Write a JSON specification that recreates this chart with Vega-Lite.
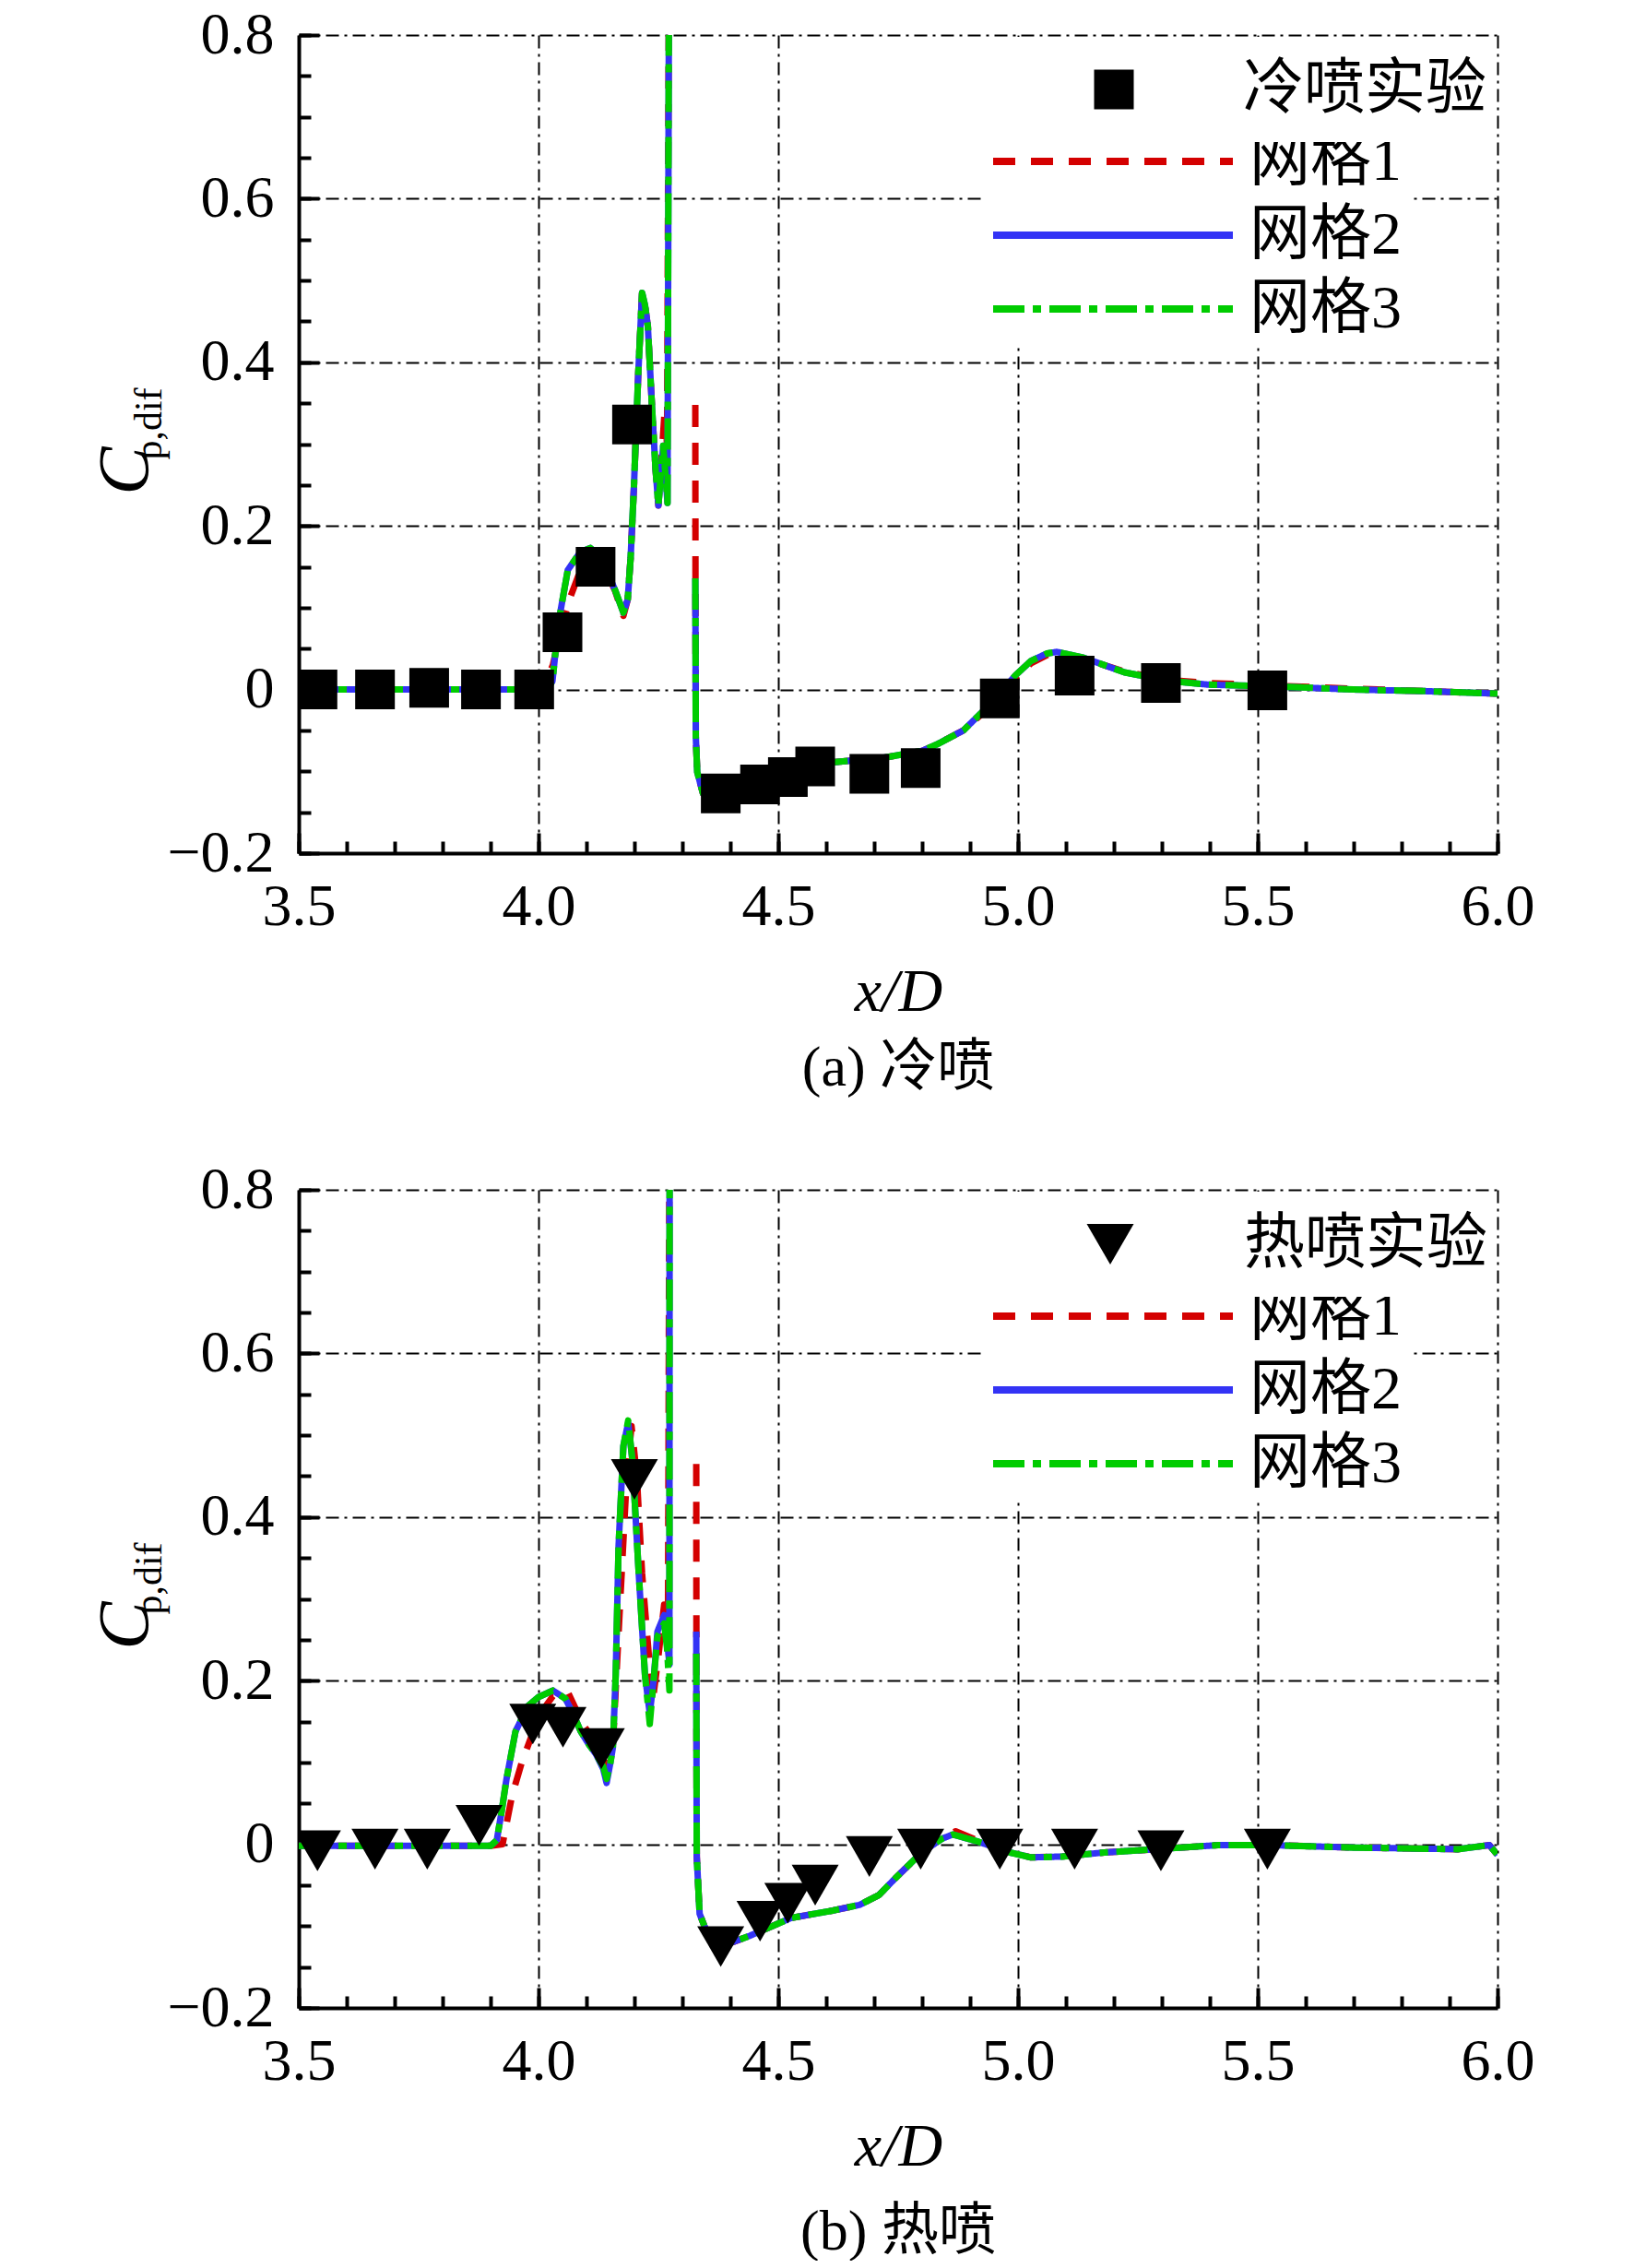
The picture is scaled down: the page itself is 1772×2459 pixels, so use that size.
{
  "$schema": "https://vega.github.io/schema/vega-lite/v6.json",
  "padding": {"left": 97, "top": 6, "right": 0, "bottom": 0},
  "spacing": 69,
  "config": {
    "font": "Liberation Serif",
    "view": {"stroke": null},
    "axis": {"labelColor": "black", "titleColor": "black", "tickColor": "black", "domainColor": "black", "titleFontWeight": "normal", "labelFont": "Liberation Serif", "titleFont": "Liberation Serif"},
    "legend": {"labelFont": "Liberation Serif, Noto Sans CJK SC", "labelFontSize": 66, "labelColor": "black", "labelLimit": 0, "fillColor": "white", "padding": 9, "orient": "none"},
    "title": {"font": "Liberation Serif, Noto Sans CJK SC", "fontSize": 62, "fontWeight": "normal", "color": "black", "anchor": "middle", "offset": 20}
  },
  "resolve": {"scale": {"color": "independent", "strokeDash": "independent", "shape": "independent"}},
  "vconcat": [
    {
      "width": 1300, "height": 887,
      "title": {"text": "(a) 冷喷", "orient": "bottom"},
      "resolve": {"axis": {"x": "independent", "y": "independent"}},
      "layer": [
        {
          "data": {"values": [
            {"x":3.5,"y":0.0,"mesh":"网格1"},{"x":3.7,"y":0.0,"mesh":"网格1"},{"x":3.9,"y":0.0,"mesh":"网格1"},{"x":4.0,"y":0.0,"mesh":"网格1"},{"x":4.015,"y":0.01,"mesh":"网格1"},{"x":4.03,"y":0.03,"mesh":"网格1"},{"x":4.045,"y":0.07,"mesh":"网格1"},{"x":4.067,"y":0.114,"mesh":"网格1"},{"x":4.09,"y":0.15,"mesh":"网格1"},{"x":4.106,"y":0.162,"mesh":"网格1"},{"x":4.125,"y":0.158,"mesh":"网格1"},{"x":4.14,"y":0.146,"mesh":"网格1"},{"x":4.16,"y":0.12,"mesh":"网格1"},{"x":4.177,"y":0.09,"mesh":"网格1"},{"x":4.186,"y":0.11,"mesh":"网格1"},{"x":4.192,"y":0.16,"mesh":"网格1"},{"x":4.199,"y":0.248,"mesh":"网格1"},{"x":4.208,"y":0.386,"mesh":"网格1"},{"x":4.216,"y":0.485,"mesh":"网格1"},{"x":4.222,"y":0.47,"mesh":"网格1"},{"x":4.228,"y":0.444,"mesh":"网格1"},{"x":4.237,"y":0.342,"mesh":"网格1"},{"x":4.244,"y":0.27,"mesh":"网格1"},{"x":4.25,"y":0.225,"mesh":"网格1"},{"x":4.263,"y":0.34,"mesh":"网格1"},{"x":4.268,"y":0.3,"mesh":"网格1"},{"x":4.2725,"y":0.95,"mesh":"网格1"},{"x":4.3,"y":null,"mesh":"网格1"},{"x":4.327,"y":0.348,"mesh":"网格1"},{"x":4.3275,"y":0.05,"mesh":"网格1"},{"x":4.328,"y":-0.057,"mesh":"网格1"},{"x":4.331,"y":-0.101,"mesh":"网格1"},{"x":4.343,"y":-0.127,"mesh":"网格1"},{"x":4.36,"y":-0.133,"mesh":"网格1"},{"x":4.369,"y":-0.134,"mesh":"网格1"},{"x":4.397,"y":-0.129,"mesh":"网格1"},{"x":4.413,"y":-0.123,"mesh":"网格1"},{"x":4.462,"y":-0.112,"mesh":"网格1"},{"x":4.527,"y":-0.096,"mesh":"网格1"},{"x":4.614,"y":-0.089,"mesh":"网格1"},{"x":4.723,"y":-0.083,"mesh":"网格1"},{"x":4.8,"y":-0.075,"mesh":"网格1"},{"x":4.831,"y":-0.067,"mesh":"网格1"},{"x":4.886,"y":-0.05,"mesh":"网格1"},{"x":4.94,"y":-0.022,"mesh":"网格1"},{"x":4.994,"y":0.014,"mesh":"网格1"},{"x":5.027,"y":0.032,"mesh":"网格1"},{"x":5.06,"y":0.042,"mesh":"网格1"},{"x":5.081,"y":0.044,"mesh":"网格1"},{"x":5.136,"y":0.038,"mesh":"网格1"},{"x":5.222,"y":0.022,"mesh":"网格1"},{"x":5.309,"y":0.012,"mesh":"网格1"},{"x":5.396,"y":0.008,"mesh":"网格1"},{"x":5.526,"y":0.005,"mesh":"网格1"},{"x":5.7,"y":0.001,"mesh":"网格1"},{"x":5.85,"y":-0.002,"mesh":"网格1"},{"x":6.0,"y":-0.005,"mesh":"网格1"},
            {"x":3.5,"y":0.0,"mesh":"网格2"},{"x":3.7,"y":0.0,"mesh":"网格2"},{"x":3.9,"y":0.0,"mesh":"网格2"},{"x":4.0,"y":0.0,"mesh":"网格2"},{"x":4.02,"y":0.002,"mesh":"网格2"},{"x":4.029,"y":0.01,"mesh":"网格2"},{"x":4.042,"y":0.083,"mesh":"网格2"},{"x":4.061,"y":0.146,"mesh":"网格2"},{"x":4.087,"y":0.168,"mesh":"网格2"},{"x":4.108,"y":0.173,"mesh":"网格2"},{"x":4.125,"y":0.165,"mesh":"网格2"},{"x":4.138,"y":0.152,"mesh":"网格2"},{"x":4.16,"y":0.121,"mesh":"网格2"},{"x":4.177,"y":0.094,"mesh":"网格2"},{"x":4.186,"y":0.11,"mesh":"网格2"},{"x":4.192,"y":0.16,"mesh":"网格2"},{"x":4.199,"y":0.248,"mesh":"网格2"},{"x":4.208,"y":0.386,"mesh":"网格2"},{"x":4.216,"y":0.485,"mesh":"网格2"},{"x":4.222,"y":0.47,"mesh":"网格2"},{"x":4.228,"y":0.444,"mesh":"网格2"},{"x":4.237,"y":0.342,"mesh":"网格2"},{"x":4.244,"y":0.27,"mesh":"网格2"},{"x":4.25,"y":0.225,"mesh":"网格2"},{"x":4.256,"y":0.27,"mesh":"网格2"},{"x":4.26,"y":0.298,"mesh":"网格2"},{"x":4.265,"y":0.26,"mesh":"网格2"},{"x":4.269,"y":0.228,"mesh":"网格2"},{"x":4.2725,"y":0.95,"mesh":"网格2"},{"x":4.3,"y":null,"mesh":"网格2"},{"x":4.327,"y":0.136,"mesh":"网格2"},{"x":4.3275,"y":0.05,"mesh":"网格2"},{"x":4.328,"y":-0.057,"mesh":"网格2"},{"x":4.331,"y":-0.101,"mesh":"网格2"},{"x":4.343,"y":-0.127,"mesh":"网格2"},{"x":4.36,"y":-0.133,"mesh":"网格2"},{"x":4.369,"y":-0.134,"mesh":"网格2"},{"x":4.397,"y":-0.129,"mesh":"网格2"},{"x":4.413,"y":-0.123,"mesh":"网格2"},{"x":4.462,"y":-0.112,"mesh":"网格2"},{"x":4.527,"y":-0.096,"mesh":"网格2"},{"x":4.614,"y":-0.089,"mesh":"网格2"},{"x":4.723,"y":-0.083,"mesh":"网格2"},{"x":4.8,"y":-0.075,"mesh":"网格2"},{"x":4.831,"y":-0.067,"mesh":"网格2"},{"x":4.886,"y":-0.05,"mesh":"网格2"},{"x":4.94,"y":-0.019,"mesh":"网格2"},{"x":4.994,"y":0.017,"mesh":"网格2"},{"x":5.027,"y":0.035,"mesh":"网格2"},{"x":5.06,"y":0.044,"mesh":"网格2"},{"x":5.081,"y":0.046,"mesh":"网格2"},{"x":5.136,"y":0.039,"mesh":"网格2"},{"x":5.222,"y":0.021,"mesh":"网格2"},{"x":5.309,"y":0.011,"mesh":"网格2"},{"x":5.396,"y":0.006,"mesh":"网格2"},{"x":5.526,"y":0.004,"mesh":"网格2"},{"x":5.7,"y":0.0,"mesh":"网格2"},{"x":5.85,"y":-0.002,"mesh":"网格2"},{"x":6.0,"y":-0.005,"mesh":"网格2"},
            {"x":3.5,"y":0.0,"mesh":"网格3"},{"x":3.7,"y":0.0,"mesh":"网格3"},{"x":3.9,"y":0.0,"mesh":"网格3"},{"x":4.0,"y":0.0,"mesh":"网格3"},{"x":4.02,"y":0.002,"mesh":"网格3"},{"x":4.029,"y":0.01,"mesh":"网格3"},{"x":4.042,"y":0.083,"mesh":"网格3"},{"x":4.061,"y":0.146,"mesh":"网格3"},{"x":4.087,"y":0.168,"mesh":"网格3"},{"x":4.108,"y":0.173,"mesh":"网格3"},{"x":4.125,"y":0.165,"mesh":"网格3"},{"x":4.138,"y":0.152,"mesh":"网格3"},{"x":4.16,"y":0.121,"mesh":"网格3"},{"x":4.177,"y":0.094,"mesh":"网格3"},{"x":4.186,"y":0.11,"mesh":"网格3"},{"x":4.192,"y":0.16,"mesh":"网格3"},{"x":4.199,"y":0.248,"mesh":"网格3"},{"x":4.208,"y":0.386,"mesh":"网格3"},{"x":4.216,"y":0.485,"mesh":"网格3"},{"x":4.222,"y":0.47,"mesh":"网格3"},{"x":4.228,"y":0.444,"mesh":"网格3"},{"x":4.237,"y":0.342,"mesh":"网格3"},{"x":4.244,"y":0.27,"mesh":"网格3"},{"x":4.25,"y":0.225,"mesh":"网格3"},{"x":4.256,"y":0.27,"mesh":"网格3"},{"x":4.26,"y":0.298,"mesh":"网格3"},{"x":4.265,"y":0.26,"mesh":"网格3"},{"x":4.269,"y":0.228,"mesh":"网格3"},{"x":4.2725,"y":0.95,"mesh":"网格3"},{"x":4.3,"y":null,"mesh":"网格3"},{"x":4.327,"y":0.136,"mesh":"网格3"},{"x":4.3275,"y":0.05,"mesh":"网格3"},{"x":4.328,"y":-0.057,"mesh":"网格3"},{"x":4.331,"y":-0.101,"mesh":"网格3"},{"x":4.343,"y":-0.127,"mesh":"网格3"},{"x":4.36,"y":-0.133,"mesh":"网格3"},{"x":4.369,"y":-0.134,"mesh":"网格3"},{"x":4.397,"y":-0.129,"mesh":"网格3"},{"x":4.413,"y":-0.123,"mesh":"网格3"},{"x":4.462,"y":-0.112,"mesh":"网格3"},{"x":4.527,"y":-0.096,"mesh":"网格3"},{"x":4.614,"y":-0.089,"mesh":"网格3"},{"x":4.723,"y":-0.083,"mesh":"网格3"},{"x":4.8,"y":-0.075,"mesh":"网格3"},{"x":4.831,"y":-0.067,"mesh":"网格3"},{"x":4.886,"y":-0.05,"mesh":"网格3"},{"x":4.94,"y":-0.019,"mesh":"网格3"},{"x":4.994,"y":0.017,"mesh":"网格3"},{"x":5.027,"y":0.035,"mesh":"网格3"},{"x":5.06,"y":0.044,"mesh":"网格3"},{"x":5.081,"y":0.046,"mesh":"网格3"},{"x":5.136,"y":0.039,"mesh":"网格3"},{"x":5.222,"y":0.021,"mesh":"网格3"},{"x":5.309,"y":0.011,"mesh":"网格3"},{"x":5.396,"y":0.006,"mesh":"网格3"},{"x":5.526,"y":0.004,"mesh":"网格3"},{"x":5.7,"y":0.0,"mesh":"网格3"},{"x":5.85,"y":-0.002,"mesh":"网格3"},{"x":6.0,"y":-0.005,"mesh":"网格3"}
          ]},
          "mark": {"type": "line", "strokeWidth": 7, "clip": true, "strokeJoin": "round"},
          "encoding": {
            "x": {"field": "x", "type": "quantitative", "scale": {"domain": [3.5, 6.0], "nice": false, "zero": false},
              "axis": {"orient": "bottom", "values": [3.5, 4.0, 4.5, 5.0, 5.5, 6.0], "format": ".1f", "labelFontSize": 64, "labelPadding": 48, "labelFlush": false, "labelOverlap": false, "tickSize": -22, "tickWidth": 4, "domainWidth": 4, "grid": true, "gridColor": "black", "gridWidth": 2, "gridDash": [14, 6, 3, 6], "gridOpacity": 1, "title": "x/D", "titleFontSize": 66, "titleFontStyle": "italic", "titlePadding": 28}},
            "y": {"field": "y", "type": "quantitative", "scale": {"domain": [-0.2, 0.8], "nice": false, "zero": false},
              "axis": {"orient": "left", "values": [-0.2, 0, 0.2, 0.4, 0.6, 0.8], "labelExpr": "datum.value == 0 ? '0' : format(datum.value, '.1f')", "labelFontSize": 64, "labelPadding": 49, "labelFlush": false, "labelOverlap": false, "tickSize": -22, "tickWidth": 4, "domainWidth": 4, "grid": true, "gridColor": "black", "gridWidth": 2, "gridDash": [14, 6, 3, 6], "gridOpacity": 1, "title": "C", "titleFontSize": 78, "titleFontStyle": "italic", "titleX": -188, "titleY": 472, "titleAngle": -90, "titleBaseline": "middle", "titleAlign": "center"}},
            "color": {"field": "mesh", "type": "nominal",
              "scale": {"domain": ["网格1", "网格2", "网格3"], "range": ["#d40000", "#3333f5", "#00cc00"]},
              "legend": {"orient": "none", "legendX": 740, "legendY": 98, "title": "          ", "titleOrient": "right", "titleFontSize": 40, "titlePadding": 2, "symbolType": "stroke", "symbolSize": 67600, "symbolStrokeWidth": 8, "clipHeight": 60, "rowPadding": 14, "labelOffset": 14}},
            "strokeDash": {"field": "mesh", "type": "nominal",
              "scale": {"domain": ["网格1", "网格2", "网格3"], "range": [[24, 17], [1, 0], [34, 9, 9, 9]]},
              "legend": {"orient": "none", "legendX": 740, "legendY": 98, "title": "          ", "titleOrient": "right", "titleFontSize": 40, "titlePadding": 2, "symbolType": "stroke", "symbolSize": 67600, "symbolStrokeWidth": 8, "clipHeight": 60, "rowPadding": 14, "labelOffset": 14}}
          }
        },
        {
          "data": {"values": [
            {"x":3.539,"y":0.0,"mesh":"冷喷实验"},{"x":3.659,"y":0.0,"mesh":"冷喷实验"},{"x":3.772,"y":0.002,"mesh":"冷喷实验"},{"x":3.88,"y":0.0,"mesh":"冷喷实验"},{"x":3.991,"y":0.0,"mesh":"冷喷实验"},{"x":4.05,"y":0.07,"mesh":"冷喷实验"},{"x":4.119,"y":0.15,"mesh":"冷喷实验"},{"x":4.195,"y":0.324,"mesh":"冷喷实验"},{"x":4.38,"y":-0.127,"mesh":"冷喷实验"},{"x":4.462,"y":-0.116,"mesh":"冷喷实验"},{"x":4.52,"y":-0.107,"mesh":"冷喷实验"},{"x":4.577,"y":-0.094,"mesh":"冷喷实验"},{"x":4.69,"y":-0.103,"mesh":"冷喷实验"},{"x":4.797,"y":-0.096,"mesh":"冷喷实验"},{"x":4.962,"y":-0.011,"mesh":"冷喷实验"},{"x":5.118,"y":0.017,"mesh":"冷喷实验"},{"x":5.298,"y":0.008,"mesh":"冷喷实验"},{"x":5.52,"y":-0.001,"mesh":"冷喷实验"}
          ]},
          "mark": {"type": "point", "size": 1850, "filled": true, "opacity": 1, "color": "black", "clip": true},
          "encoding": {
            "x": {"field": "x", "type": "quantitative",
              "axis": {"orient": "bottom", "values": [3.5,3.6,3.7,3.8,3.9,4.0,4.1,4.2,4.3,4.4,4.5,4.6,4.7,4.8,4.9,5.0,5.1,5.2,5.3,5.4,5.5,5.6,5.7,5.8,5.9,6.0], "labels": false, "domain": false, "grid": false, "tickSize": -13, "tickWidth": 4, "title": null}},
            "y": {"field": "y", "type": "quantitative",
              "axis": {"orient": "left", "values": [-0.2,-0.15,-0.1,-0.05,0,0.05,0.1,0.15,0.2,0.25,0.3,0.35,0.4,0.45,0.5,0.55,0.6,0.65,0.7,0.75,0.8], "labels": false, "domain": false, "grid": false, "tickSize": -13, "tickWidth": 4, "title": "p,dif", "titleFontSize": 42, "titleFontStyle": "normal", "titleX": -163, "titleY": 421, "titleAngle": -90, "titleBaseline": "middle", "titleAlign": "center"}},
            "shape": {"field": "mesh", "type": "nominal",
              "scale": {"domain": ["冷喷实验"], "range": ["square"]},
              "legend": {"orient": "none", "legendX": 737, "legendY": 2, "title": null, "symbolSize": 1850, "symbolFillColor": "black", "symbolStrokeWidth": 0, "symbolOpacity": 1, "symbolOffset": 105, "clipHeight": 96, "labelOffset": 107}}
          }
        }
      ]
    },
    {
      "width": 1300, "height": 887,
      "title": {"text": "(b) 热喷", "orient": "bottom", "offset": 30},
      "resolve": {"axis": {"x": "independent", "y": "independent"}},
      "layer": [
        {
          "data": {"values": [
            {"x":3.5,"y":-0.002,"mesh":"网格1"},{"x":3.7,"y":-0.002,"mesh":"网格1"},{"x":3.9,"y":-0.002,"mesh":"网格1"},{"x":3.925,"y":0.0,"mesh":"网格1"},{"x":3.945,"y":0.06,"mesh":"网格1"},{"x":3.965,"y":0.1,"mesh":"网格1"},{"x":3.984,"y":0.13,"mesh":"网格1"},{"x":4.01,"y":0.165,"mesh":"网格1"},{"x":4.03,"y":0.181,"mesh":"网格1"},{"x":4.062,"y":0.185,"mesh":"网格1"},{"x":4.094,"y":0.145,"mesh":"网格1"},{"x":4.126,"y":0.121,"mesh":"网格1"},{"x":4.142,"y":0.09,"mesh":"网格1"},{"x":4.155,"y":0.12,"mesh":"网格1"},{"x":4.17,"y":0.293,"mesh":"网格1"},{"x":4.185,"y":0.46,"mesh":"网格1"},{"x":4.194,"y":0.511,"mesh":"网格1"},{"x":4.205,"y":0.45,"mesh":"网格1"},{"x":4.216,"y":0.331,"mesh":"网格1"},{"x":4.238,"y":0.174,"mesh":"网格1"},{"x":4.25,"y":0.23,"mesh":"网格1"},{"x":4.262,"y":0.293,"mesh":"网格1"},{"x":4.27,"y":0.28,"mesh":"网格1"},{"x":4.2735,"y":0.95,"mesh":"网格1"},{"x":4.3,"y":null,"mesh":"网格1"},{"x":4.329,"y":0.465,"mesh":"网格1"},{"x":4.3295,"y":0.1,"mesh":"网格1"},{"x":4.33,"y":-0.015,"mesh":"网格1"},{"x":4.336,"y":-0.085,"mesh":"网格1"},{"x":4.354,"y":-0.112,"mesh":"网格1"},{"x":4.38,"y":-0.125,"mesh":"网格1"},{"x":4.44,"y":-0.112,"mesh":"网格1"},{"x":4.527,"y":-0.09,"mesh":"网格1"},{"x":4.614,"y":-0.081,"mesh":"网格1"},{"x":4.67,"y":-0.074,"mesh":"网格1"},{"x":4.71,"y":-0.062,"mesh":"网格1"},{"x":4.745,"y":-0.041,"mesh":"网格1"},{"x":4.799,"y":-0.01,"mesh":"网格1"},{"x":4.842,"y":0.008,"mesh":"网格1"},{"x":4.87,"y":0.016,"mesh":"网格1"},{"x":4.918,"y":0.004,"mesh":"网格1"},{"x":4.983,"y":-0.01,"mesh":"网格1"},{"x":5.027,"y":-0.016,"mesh":"网格1"},{"x":5.092,"y":-0.015,"mesh":"网格1"},{"x":5.18,"y":-0.01,"mesh":"网格1"},{"x":5.288,"y":-0.006,"mesh":"网格1"},{"x":5.418,"y":-0.001,"mesh":"网格1"},{"x":5.526,"y":-0.001,"mesh":"网格1"},{"x":5.7,"y":-0.004,"mesh":"网格1"},{"x":5.917,"y":-0.006,"mesh":"网格1"},{"x":5.983,"y":-0.001,"mesh":"网格1"},{"x":6.0,"y":-0.013,"mesh":"网格1"},
            {"x":3.5,"y":-0.002,"mesh":"网格2"},{"x":3.7,"y":-0.002,"mesh":"网格2"},{"x":3.9,"y":-0.002,"mesh":"网格2"},{"x":3.913,"y":0.005,"mesh":"网格2"},{"x":3.923,"y":0.04,"mesh":"网格2"},{"x":3.933,"y":0.079,"mesh":"网格2"},{"x":3.952,"y":0.138,"mesh":"网格2"},{"x":3.978,"y":0.169,"mesh":"网格2"},{"x":4.0,"y":0.18,"mesh":"网格2"},{"x":4.03,"y":0.188,"mesh":"网格2"},{"x":4.056,"y":0.178,"mesh":"网格2"},{"x":4.072,"y":0.16,"mesh":"网格2"},{"x":4.088,"y":0.138,"mesh":"网格2"},{"x":4.105,"y":0.122,"mesh":"网格2"},{"x":4.12,"y":0.11,"mesh":"网格2"},{"x":4.135,"y":0.092,"mesh":"网格2"},{"x":4.142,"y":0.075,"mesh":"网格2"},{"x":4.15,"y":0.1,"mesh":"网格2"},{"x":4.155,"y":0.118,"mesh":"网格2"},{"x":4.161,"y":0.207,"mesh":"网格2"},{"x":4.167,"y":0.365,"mesh":"网格2"},{"x":4.177,"y":0.487,"mesh":"网格2"},{"x":4.187,"y":0.515,"mesh":"网格2"},{"x":4.196,"y":0.468,"mesh":"网格2"},{"x":4.209,"y":0.331,"mesh":"网格2"},{"x":4.222,"y":0.207,"mesh":"网格2"},{"x":4.232,"y":0.16,"mesh":"网格2"},{"x":4.24,"y":0.2,"mesh":"网格2"},{"x":4.248,"y":0.26,"mesh":"网格2"},{"x":4.262,"y":0.28,"mesh":"网格2"},{"x":4.268,"y":0.25,"mesh":"网格2"},{"x":4.273,"y":0.22,"mesh":"网格2"},{"x":4.2735,"y":0.95,"mesh":"网格2"},{"x":4.3,"y":null,"mesh":"网格2"},{"x":4.329,"y":0.26,"mesh":"网格2"},{"x":4.3295,"y":0.1,"mesh":"网格2"},{"x":4.33,"y":-0.015,"mesh":"网格2"},{"x":4.336,"y":-0.085,"mesh":"网格2"},{"x":4.354,"y":-0.112,"mesh":"网格2"},{"x":4.38,"y":-0.125,"mesh":"网格2"},{"x":4.44,"y":-0.112,"mesh":"网格2"},{"x":4.527,"y":-0.09,"mesh":"网格2"},{"x":4.614,"y":-0.081,"mesh":"网格2"},{"x":4.67,"y":-0.074,"mesh":"网格2"},{"x":4.71,"y":-0.062,"mesh":"网格2"},{"x":4.745,"y":-0.041,"mesh":"网格2"},{"x":4.799,"y":-0.01,"mesh":"网格2"},{"x":4.842,"y":0.007,"mesh":"网格2"},{"x":4.864,"y":0.012,"mesh":"网格2"},{"x":4.918,"y":0.003,"mesh":"网格2"},{"x":4.983,"y":-0.01,"mesh":"网格2"},{"x":5.027,"y":-0.016,"mesh":"网格2"},{"x":5.092,"y":-0.015,"mesh":"网格2"},{"x":5.18,"y":-0.01,"mesh":"网格2"},{"x":5.288,"y":-0.006,"mesh":"网格2"},{"x":5.418,"y":-0.001,"mesh":"网格2"},{"x":5.526,"y":-0.001,"mesh":"网格2"},{"x":5.7,"y":-0.004,"mesh":"网格2"},{"x":5.917,"y":-0.006,"mesh":"网格2"},{"x":5.983,"y":-0.001,"mesh":"网格2"},{"x":6.0,"y":-0.013,"mesh":"网格2"},
            {"x":3.5,"y":-0.002,"mesh":"网格3"},{"x":3.7,"y":-0.002,"mesh":"网格3"},{"x":3.9,"y":-0.002,"mesh":"网格3"},{"x":3.913,"y":0.005,"mesh":"网格3"},{"x":3.923,"y":0.04,"mesh":"网格3"},{"x":3.933,"y":0.079,"mesh":"网格3"},{"x":3.952,"y":0.138,"mesh":"网格3"},{"x":3.978,"y":0.169,"mesh":"网格3"},{"x":4.0,"y":0.18,"mesh":"网格3"},{"x":4.03,"y":0.188,"mesh":"网格3"},{"x":4.056,"y":0.178,"mesh":"网格3"},{"x":4.072,"y":0.16,"mesh":"网格3"},{"x":4.088,"y":0.138,"mesh":"网格3"},{"x":4.105,"y":0.122,"mesh":"网格3"},{"x":4.12,"y":0.11,"mesh":"网格3"},{"x":4.135,"y":0.095,"mesh":"网格3"},{"x":4.142,"y":0.08,"mesh":"网格3"},{"x":4.15,"y":0.1,"mesh":"网格3"},{"x":4.155,"y":0.118,"mesh":"网格3"},{"x":4.161,"y":0.207,"mesh":"网格3"},{"x":4.167,"y":0.365,"mesh":"网格3"},{"x":4.177,"y":0.487,"mesh":"网格3"},{"x":4.187,"y":0.518,"mesh":"网格3"},{"x":4.196,"y":0.468,"mesh":"网格3"},{"x":4.209,"y":0.331,"mesh":"网格3"},{"x":4.222,"y":0.207,"mesh":"网格3"},{"x":4.232,"y":0.147,"mesh":"网格3"},{"x":4.24,"y":0.2,"mesh":"网格3"},{"x":4.248,"y":0.254,"mesh":"网格3"},{"x":4.262,"y":0.27,"mesh":"网格3"},{"x":4.268,"y":0.24,"mesh":"网格3"},{"x":4.273,"y":0.188,"mesh":"网格3"},{"x":4.2735,"y":0.95,"mesh":"网格3"},{"x":4.3,"y":null,"mesh":"网格3"},{"x":4.329,"y":0.233,"mesh":"网格3"},{"x":4.3295,"y":0.1,"mesh":"网格3"},{"x":4.33,"y":-0.015,"mesh":"网格3"},{"x":4.336,"y":-0.085,"mesh":"网格3"},{"x":4.354,"y":-0.112,"mesh":"网格3"},{"x":4.38,"y":-0.125,"mesh":"网格3"},{"x":4.44,"y":-0.112,"mesh":"网格3"},{"x":4.527,"y":-0.09,"mesh":"网格3"},{"x":4.614,"y":-0.081,"mesh":"网格3"},{"x":4.67,"y":-0.074,"mesh":"网格3"},{"x":4.71,"y":-0.062,"mesh":"网格3"},{"x":4.745,"y":-0.041,"mesh":"网格3"},{"x":4.799,"y":-0.01,"mesh":"网格3"},{"x":4.842,"y":0.007,"mesh":"网格3"},{"x":4.864,"y":0.012,"mesh":"网格3"},{"x":4.918,"y":0.003,"mesh":"网格3"},{"x":4.983,"y":-0.01,"mesh":"网格3"},{"x":5.027,"y":-0.016,"mesh":"网格3"},{"x":5.092,"y":-0.015,"mesh":"网格3"},{"x":5.18,"y":-0.01,"mesh":"网格3"},{"x":5.288,"y":-0.006,"mesh":"网格3"},{"x":5.418,"y":-0.001,"mesh":"网格3"},{"x":5.526,"y":-0.001,"mesh":"网格3"},{"x":5.7,"y":-0.004,"mesh":"网格3"},{"x":5.917,"y":-0.006,"mesh":"网格3"},{"x":5.983,"y":-0.001,"mesh":"网格3"},{"x":6.0,"y":-0.013,"mesh":"网格3"}
          ]},
          "mark": {"type": "line", "strokeWidth": 7, "clip": true, "strokeJoin": "round"},
          "encoding": {
            "x": {"field": "x", "type": "quantitative", "scale": {"domain": [3.5, 6.0], "nice": false, "zero": false},
              "axis": {"orient": "bottom", "values": [3.5, 4.0, 4.5, 5.0, 5.5, 6.0], "format": ".1f", "labelFontSize": 64, "labelPadding": 48, "labelFlush": false, "labelOverlap": false, "tickSize": -22, "tickWidth": 4, "domainWidth": 4, "grid": true, "gridColor": "black", "gridWidth": 2, "gridDash": [14, 6, 3, 6], "gridOpacity": 1, "title": "x/D", "titleFontSize": 66, "titleFontStyle": "italic", "titlePadding": 28}},
            "y": {"field": "y", "type": "quantitative", "scale": {"domain": [-0.2, 0.8], "nice": false, "zero": false},
              "axis": {"orient": "left", "values": [-0.2, 0, 0.2, 0.4, 0.6, 0.8], "labelExpr": "datum.value == 0 ? '0' : format(datum.value, '.1f')", "labelFontSize": 64, "labelPadding": 49, "labelFlush": false, "labelOverlap": false, "tickSize": -22, "tickWidth": 4, "domainWidth": 4, "grid": true, "gridColor": "black", "gridWidth": 2, "gridDash": [14, 6, 3, 6], "gridOpacity": 1, "title": "C", "titleFontSize": 78, "titleFontStyle": "italic", "titleX": -188, "titleY": 472, "titleAngle": -90, "titleBaseline": "middle", "titleAlign": "center"}},
            "color": {"field": "mesh", "type": "nominal",
              "scale": {"domain": ["网格1", "网格2", "网格3"], "range": ["#d40000", "#3333f5", "#00cc00"]},
              "legend": {"orient": "none", "legendX": 740, "legendY": 98, "title": "          ", "titleOrient": "right", "titleFontSize": 40, "titlePadding": 2, "symbolType": "stroke", "symbolSize": 67600, "symbolStrokeWidth": 8, "clipHeight": 60, "rowPadding": 14, "labelOffset": 14}},
            "strokeDash": {"field": "mesh", "type": "nominal",
              "scale": {"domain": ["网格1", "网格2", "网格3"], "range": [[24, 17], [1, 0], [34, 9, 9, 9]]},
              "legend": {"orient": "none", "legendX": 740, "legendY": 98, "title": "          ", "titleOrient": "right", "titleFontSize": 40, "titlePadding": 2, "symbolType": "stroke", "symbolSize": 67600, "symbolStrokeWidth": 8, "clipHeight": 60, "rowPadding": 14, "labelOffset": 14}}
          }
        },
        {
          "data": {"values": [
            {"x":3.539,"y":-0.008,"mesh":"热喷实验"},{"x":3.659,"y":-0.006,"mesh":"热喷实验"},{"x":3.768,"y":-0.006,"mesh":"热喷实验"},{"x":3.876,"y":0.023,"mesh":"热喷实验"},{"x":3.988,"y":0.147,"mesh":"热喷实验"},{"x":4.051,"y":0.143,"mesh":"热喷实验"},{"x":4.131,"y":0.117,"mesh":"热喷实验"},{"x":4.2,"y":0.446,"mesh":"热喷实验"},{"x":4.38,"y":-0.125,"mesh":"热喷实验"},{"x":4.462,"y":-0.094,"mesh":"热喷实验"},{"x":4.52,"y":-0.072,"mesh":"热喷实验"},{"x":4.577,"y":-0.05,"mesh":"热喷实验"},{"x":4.69,"y":-0.015,"mesh":"热喷实验"},{"x":4.797,"y":-0.006,"mesh":"热喷实验"},{"x":4.962,"y":-0.006,"mesh":"热喷实验"},{"x":5.118,"y":-0.006,"mesh":"热喷实验"},{"x":5.298,"y":-0.008,"mesh":"热喷实验"},{"x":5.52,"y":-0.006,"mesh":"热喷实验"}
          ]},
          "mark": {"type": "point", "size": 2600, "filled": true, "opacity": 1, "color": "black", "clip": true},
          "encoding": {
            "x": {"field": "x", "type": "quantitative",
              "axis": {"orient": "bottom", "values": [3.5,3.6,3.7,3.8,3.9,4.0,4.1,4.2,4.3,4.4,4.5,4.6,4.7,4.8,4.9,5.0,5.1,5.2,5.3,5.4,5.5,5.6,5.7,5.8,5.9,6.0], "labels": false, "domain": false, "grid": false, "tickSize": -13, "tickWidth": 4, "title": null}},
            "y": {"field": "y", "type": "quantitative",
              "axis": {"orient": "left", "values": [-0.2,-0.15,-0.1,-0.05,0,0.05,0.1,0.15,0.2,0.25,0.3,0.35,0.4,0.45,0.5,0.55,0.6,0.65,0.7,0.75,0.8], "labels": false, "domain": false, "grid": false, "tickSize": -13, "tickWidth": 4, "title": "p,dif", "titleFontSize": 42, "titleFontStyle": "normal", "titleX": -163, "titleY": 421, "titleAngle": -90, "titleBaseline": "middle", "titleAlign": "center"}},
            "shape": {"field": "mesh", "type": "nominal",
              "scale": {"domain": ["热喷实验"], "range": ["triangle-down"]},
              "legend": {"orient": "none", "legendX": 737, "legendY": 2, "title": null, "symbolSize": 2600, "symbolFillColor": "black", "symbolStrokeWidth": 0, "symbolOpacity": 1, "symbolOffset": 101, "clipHeight": 96, "labelOffset": 112}}
          }
        }
      ]
    }
  ]
}
